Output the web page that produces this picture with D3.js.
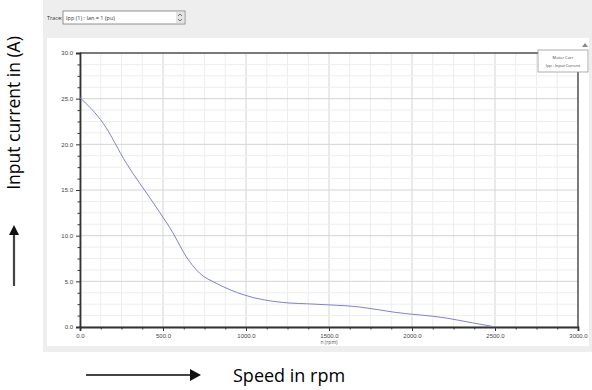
<!DOCTYPE html>
<html>
<head>
<meta charset="utf-8">
<script src="https://cdn.jsdelivr.net/npm/d3@7"></script>
<style>
  body { margin: 0; background: #fff; }
  svg { display: block; font-family: "Open Sans", "Noto Sans", sans-serif; }
</style>
</head>
<body>
<svg id="chart" width="592" height="390"></svg>
<script>
// speed (rpm) vs input current (A)
const speed   = [0, 140, 280, 430, 560, 640, 720, 820, 990, 1215, 1415, 1680, 1900, 2200, 2365, 2490];
const current = [25.1, 22.3, 17.9, 13.9, 10.3, 7.7, 5.9, 4.8, 3.5, 2.7, 2.5, 2.2, 1.6, 1.0, 0.45, 0.05];
const xTicks = [0, 500, 1000, 1500, 2000, 2500, 3000];
const yTicks = [0, 5, 10, 15, 20, 25, 30];
const traceLabel = 'Ipp (1) : Ian = 1 (pu)';
const legendLines = ['Motor Curr', 'Ipp : Input Current'];

const svg = d3.select('#chart');

// screenshot panel
svg.append('rect').attr('x', 43).attr('y', 0).attr('width', 549).attr('height', 352).attr('fill', '#eeeeee');
svg.append('rect').attr('x', 47).attr('y', 38).attr('width', 542).attr('height', 308).attr('fill', '#fff');

// trace selector
svg.append('text').attr('x', 47).attr('y', 20).attr('font-size', 5.5).attr('fill', '#333').text('Trace:');
svg.append('rect').attr('x', 63).attr('y', 11).attr('width', 122).attr('height', 13)
  .attr('fill', '#fff').attr('stroke', '#777').attr('stroke-width', 0.8);
svg.append('text').attr('x', 66).attr('y', 20).attr('font-size', 5.5).attr('fill', '#333').text(traceLabel);
svg.append('rect').attr('x', 176).attr('y', 12).attr('width', 8).attr('height', 11).attr('fill', '#e4e4e4');
svg.append('path').attr('d', 'M178,16 l2,-2 l2,2 M178,19 l2,2 l2,-2').attr('fill', 'none').attr('stroke', '#444').attr('stroke-width', 0.7);

const x = d3.scaleLinear().domain([0, 3000]).range([80, 578]);
const y = d3.scaleLinear().domain([0, 30]).range([327, 53]);

// grid
const grid = svg.append('g');
d3.range(0, 3001, 125).forEach(v => {
  const major = v % 500 === 0;
  grid.append('line').attr('x1', x(v)).attr('x2', x(v)).attr('y1', y(30)).attr('y2', y(0))
    .attr('stroke', major ? '#d4d4d4' : '#ededed').attr('stroke-width', 1);
});
d3.range(0, 30.01, 1.25).forEach(v => {
  const major = Math.abs(v % 5) < 1e-6;
  grid.append('line').attr('x1', x(0)).attr('x2', x(3000)).attr('y1', y(v)).attr('y2', y(v))
    .attr('stroke', major ? '#d4d4d4' : '#ededed').attr('stroke-width', 1);
});

// frame top / right
svg.append('line').attr('x1', x(0)).attr('x2', x(3000)).attr('y1', y(30)).attr('y2', y(30)).attr('stroke', '#555').attr('stroke-width', 1.5);
svg.append('line').attr('x1', x(3000)).attr('x2', x(3000)).attr('y1', y(30)).attr('y2', y(0)).attr('stroke', '#555').attr('stroke-width', 1.5);

// axes
const xAxis = svg.append('g').attr('transform', `translate(0,${y(0)})`)
  .call(d3.axisBottom(x).tickValues(xTicks).tickFormat(d => d.toFixed(1)).tickSize(4));
const yAxis = svg.append('g').attr('transform', `translate(${x(0)},0)`)
  .call(d3.axisLeft(y).tickValues(yTicks).tickFormat(d => d.toFixed(1)).tickSize(4));
svg.append('g').attr('transform', `translate(0,${y(0)})`)
  .call(d3.axisBottom(x).tickValues(d3.range(0, 3001, 125).filter(v => v % 500)).tickFormat('').tickSize(2.5))
  .select('.domain').remove();
svg.append('g').attr('transform', `translate(${x(0)},0)`)
  .call(d3.axisLeft(y).tickValues(d3.range(0, 30.01, 1.25).filter(v => Math.abs(v % 5) > 1e-6)).tickFormat('').tickSize(2.5))
  .select('.domain').remove();
[xAxis, yAxis].forEach(a => {
  a.select('.domain').attr('stroke', '#333').attr('stroke-width', 1.8);
  a.selectAll('.tick text').attr('font-size', 6).attr('fill', '#444');
});
svg.selectAll('.tick line').attr('stroke', '#333');
svg.append('text').attr('x', x(1500)).attr('y', 344).attr('text-anchor', 'middle')
  .attr('font-size', 5).attr('fill', '#555').text('n (rpm)');

// curve
svg.append('path')
  .datum(speed.map((s, i) => [s, current[i]]))
  .attr('fill', 'none').attr('stroke', '#8080d4').attr('stroke-width', 1)
  .attr('d', d3.line().x(d => x(d[0])).y(d => y(d[1])).curve(d3.curveMonotoneX));

// legend
const lg = svg.append('g');
lg.append('rect').attr('x', 538).attr('y', 50).attr('width', 50).attr('height', 22)
  .attr('fill', '#fff').attr('stroke', '#999').attr('stroke-width', 0.8);
legendLines.forEach((t, i) => {
  lg.append('text').attr('x', 563).attr('y', 59 + i * 8).attr('text-anchor', 'middle')
    .attr('font-size', 4).attr('fill', '#444').text(t);
});
svg.append('path').attr('d', 'M582,47 l3,-4 l3,4 z').attr('fill', '#888');

// outer labels
svg.append('text').attr('transform', 'translate(20,113) rotate(-90)').attr('text-anchor', 'middle')
  .attr('font-size', 17.5).attr('fill', '#000').text('Input current in (A)');
svg.append('line').attr('x1', 14).attr('x2', 14).attr('y1', 286).attr('y2', 234)
  .attr('stroke', '#444').attr('stroke-width', 2.2);
svg.append('path').attr('d', 'M9,235 L14,225 L19,235 Z').attr('fill', '#111');

svg.append('line').attr('x1', 86).attr('x2', 192).attr('y1', 375).attr('y2', 375)
  .attr('stroke', '#444').attr('stroke-width', 2.2);
svg.append('path').attr('d', 'M190,369 L201,375 L190,381 Z').attr('fill', '#111');
svg.append('text').attr('x', 233).attr('y', 382).attr('font-size', 18).attr('fill', '#000').text('Speed in rpm');
</script>
</body>
</html>
